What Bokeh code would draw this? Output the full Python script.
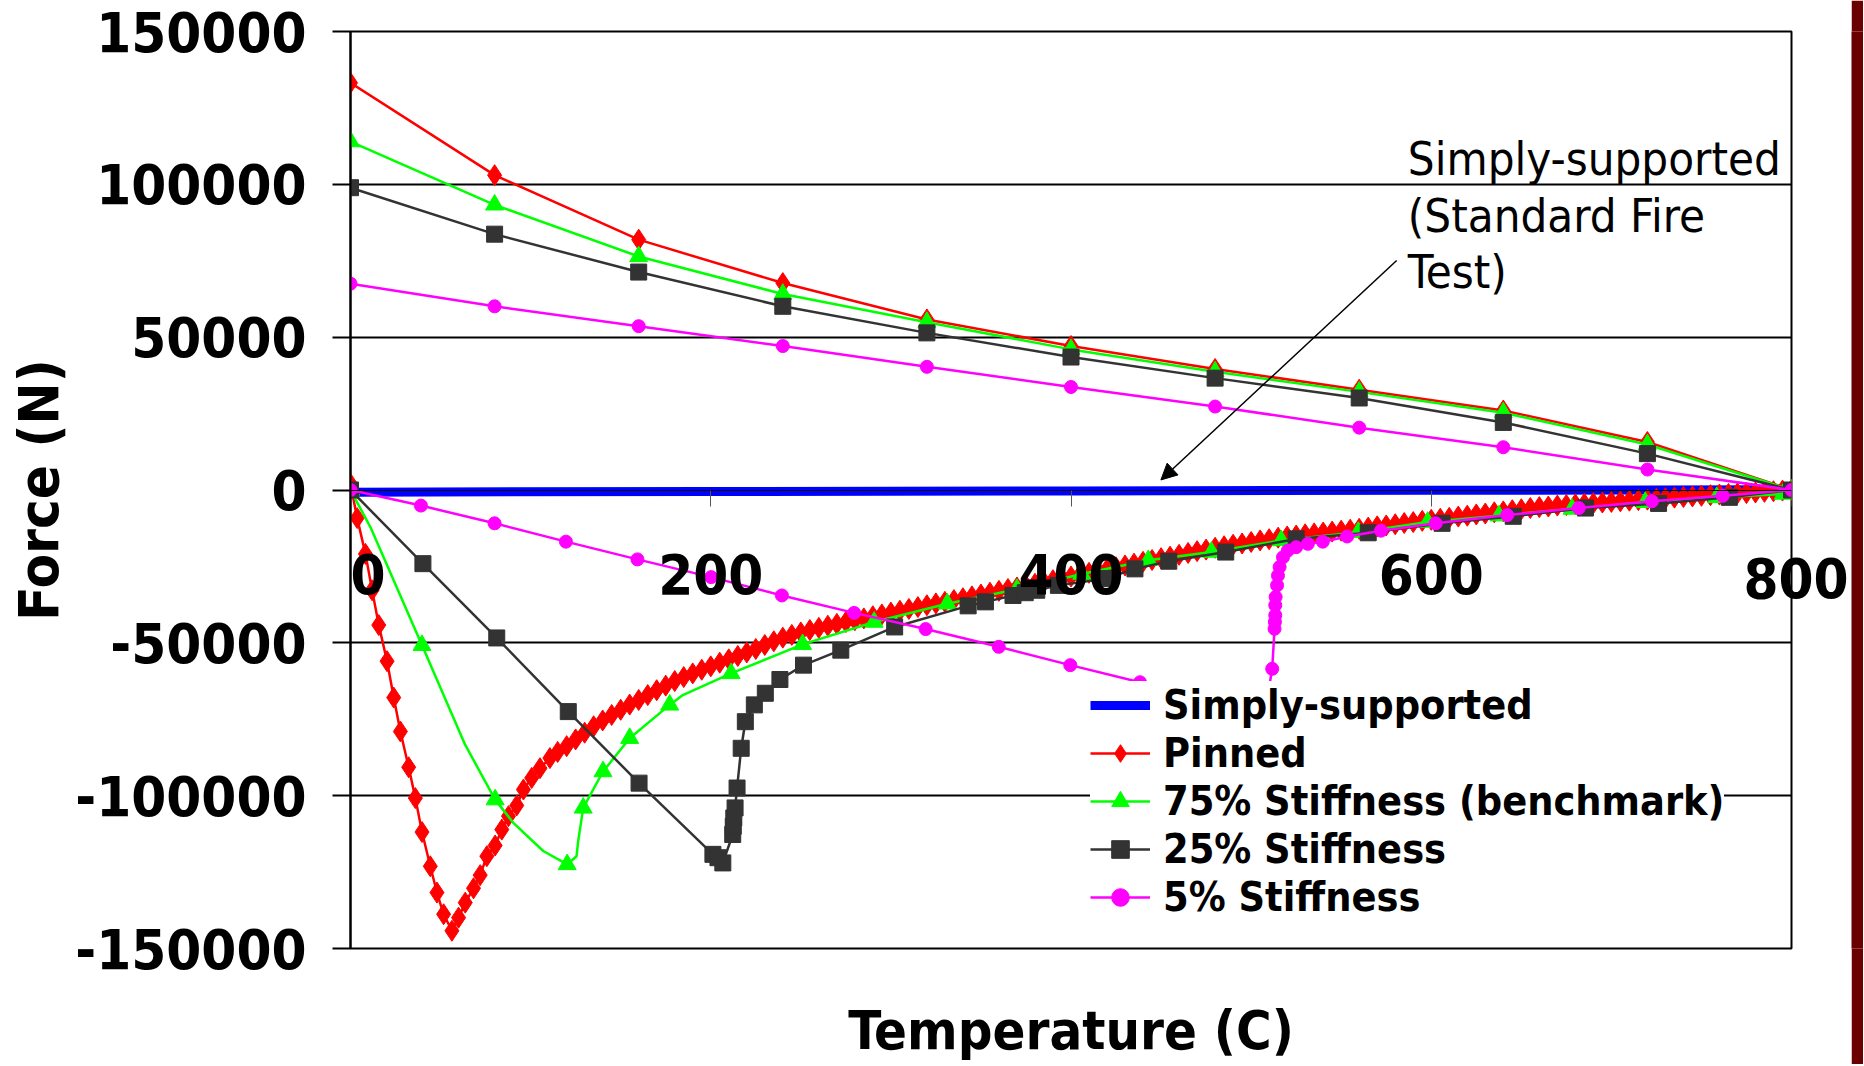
from bokeh.plotting import figure
from bokeh.models import (ColumnDataSource, CDSView, BooleanFilter, Legend, LegendItem,
                          FixedTicker, Label, Arrow, NormalHead, Range1d, LinearAxis)
from bokeh.layouts import row
from bokeh.embed import file_html
from bokeh.resources import INLINE

FONT = "DejaVu Sans Condensed"

# ---------------- data ----------------
x_ticks = [0, 200, 400, 600, 800]
x_tick_labels = ["0", "200", "400", "600", "800"]
y_ticks = [-150000, -100000, -50000, 0, 50000, 100000, 150000]
y_tick_labels = ["-150000", "-100000", "-50000", "0", "50000", "100000", "150000"]

# Simply-supported
ss_t = [0, 200, 400, 600, 800]
ss_f = [-700, -500, -300, -100, 100]

# cooling branch (upper curves), temperatures
cool_t = [0, 80, 160, 240, 320, 400, 480, 560, 640, 720, 800]
pinned_cool_f = [133200, 103000, 81900, 67700, 55800, 47100, 39600, 32800, 26000, 15700, 0]
green_cool_f = [114000, 93300, 76400, 64100, 54900, 46000, 38700, 32100, 25300, 14900, 0]
black_cool_f = [98900, 83700, 71300, 60100, 51400, 43500, 36600, 30100, 22100, 11900, 0]
mag_cool_f = [67500, 60100, 53600, 47100, 40300, 33700, 27300, 20400, 14000, 6700, 0]

# heating branch (lower curves)
pinned_heat_t = [0, 3.7, 8.3, 12, 15.7, 20.3, 24, 27.7, 32.3, 36, 39.7, 44.3, 48, 51.7, 56.3,
                 60, 63.7, 68.3, 72, 75.7, 80.3, 84, 87.7, 92.3, 96, 100.6, 105.2, 110.7,
                 115, 120, 125, 130, 135, 140, 145, 150, 155, 160,
                 165, 170, 175, 180, 185, 190, 195, 200, 205, 210,
                 215, 220, 225, 230, 235, 240, 245, 250, 255, 260,
                 265, 270, 275, 280, 285, 290, 295, 300, 305, 310,
                 315, 320, 325, 330, 335, 340, 345, 350, 355, 360,
                 365, 370, 375, 380, 385, 390, 395, 400, 405, 410,
                 415, 420, 425, 430, 435, 440, 445, 450, 455, 460,
                 465, 470, 475, 480, 485, 490, 495, 500, 505, 510,
                 515, 520, 525, 530, 535, 540, 545, 550, 555, 560,
                 565, 570, 575, 580, 585, 590, 595, 600, 605, 610,
                 615, 620, 625, 630, 635, 640, 645, 650, 655, 660,
                 665, 670, 675, 680, 685, 690, 695, 700, 705, 710,
                 715, 720, 725, 730, 735, 740, 745, 750, 755, 760,
                 765, 770, 775, 780, 785, 790, 795, 800]
pinned_heat_f = [2000, -9200, -20900, -32800, -44200, -56000, -67900, -79000, -90700, -100800,
                 -111900, -123100, -131700, -138800, -144200,
                 -139900, -135000, -130300, -126000, -119800, -116300, -111100, -106700, -103200,
                 -98000, -94200, -91000, -87700,
                 -85700, -83800, -81600, -79400, -77300, -75400, -73600, -71900, -70200, -68700,
                 -67100, -65500, -64000, -62500, -61200, -60000, -58800, -57700, -56500, -55400,
                 -54300, -53150, -52000, -50700, -49500, -48300, -47400, -46600, -45800, -45100,
                 -44400, -43800, -43200, -42600, -42000, -41300, -40700, -40100, -39500, -38900,
                 -38300, -37700, -37100, -36600, -36000, -35400, -34800, -34200, -33600, -33000,
                 -32400, -31900, -31300, -30700, -30100, -29500, -28900, -28300, -27700, -27100,
                 -26500, -25900, -25300, -24700, -24100, -23500, -22900, -22300, -21800, -21200,
                 -20600, -20000, -19500, -18900, -18400, -17900, -17500, -17000, -16500, -16100,
                 -15600, -15200, -14900, -14500, -14200, -13900, -13600, -13300, -13000, -12700,
                 -12300, -11900, -11600, -11200, -10800, -10500, -10100, -9750, -9400, -9100,
                 -8700, -8400, -8000, -7700, -7300, -7000, -6600, -6300, -5900, -5600,
                 -5400, -5100, -4900, -4700, -4500, -4300, -4100, -3900, -3700, -3500,
                 -3300, -3150, -2900, -2700, -2500, -2300, -2100, -1900, -1700, -1500,
                 -1300, -1100, -1000, -800, -600, -400, -200, 0]

green_heat_t = [0, 11.1, 39.7, 63.7, 80.3, 90.4, 107, 120.3, 125.5, 126.4, 129.2, 140.2, 155,
                177.2, 184.5, 211.3, 251, 290.7, 331.3, 370, 406, 442.9, 478, 516.7, 559.5,
                598, 637.6, 678.2, 718.8, 758.5, 795.4]
green_heat_f = [0, -12200, -50800, -83400, -101300, -108900, -118100, -122500, -119800, -114900,
                -104000, -92100, -81200, -70300, -67100, -60000, -50500, -43200, -37200, -32500,
                -27500, -23000, -20300, -16500, -13800, -10500, -8400, -6200, -4000, -2400, -1300]
green_heat_marked = [1, 0, 1, 0, 1, 0, 0, 1, 0, 0, 1, 1, 1, 1, 0, 1, 1, 1, 1, 1, 1, 1, 1, 1, 1,
                     1, 1, 1, 1, 1, 1]

black_heat_t = [0, 40.2, 81.2, 120.9, 160.2, 201.2, 204, 206.7, 212.2, 212.5, 212.8, 213.5,
                214.6, 216.9, 219.2, 224.2, 230.3, 238.4, 251.5, 272.2, 302.1, 342.9, 352.5,
                367.8, 374.6, 381, 393, 419, 435.5, 454.3, 485.9, 525, 565, 606, 645.5, 685.6,
                726.2, 765.5]
black_heat_f = [0, -24100, -48400, -72500, -95900, -119200, -120300, -122000, -112700, -110000,
                -107300, -104000, -97500, -84500, -75800, -70300, -66500, -62000, -57300, -52400,
                -44800, -37900, -36600, -34500, -33600, -32800, -31200, -29000, -25800, -23300,
                -20300, -16000, -14000, -10900, -8600, -5900, -4400, -2400]

mag_heat_t = [0, 39.1, 80, 119.6, 159.3, 200.2, 239.5, 279.6, 319.3, 359.9, 399.6, 438.3, 480,
              508, 511.7, 513, 513.2, 513.4, 513.4, 513.6, 514.4, 514.9, 515.8, 517.7, 520.4,
              525, 531.5, 539.8, 553.3, 572.1, 602.5, 642.2, 681.9, 722.5, 761.8]
mag_heat_f = [0, -5100, -10900, -16900, -22700, -28500, -34500, -40200, -45500, -51300, -57300,
              -62900, -68500, -71500, -58500, -45400, -43200, -41000, -37700, -35000, -31200,
              -28000, -25200, -22000, -19800, -18700, -17600, -16900, -15200, -13300, -10900,
              -8200, -5900, -3700, -1900]

x_title = "Temperature (C)"
y_title = "Force (N)"
annot_text = "Simply-supported\n(Standard Fire\nTest)"
annot_pos = (587, 117400)
arrow_start = (580.8, 75070)
arrow_end = (449.9, 3290)
x_label_level = -28700   # force level at which the last x tick label sits (right axis)

# ---------------- figure ----------------
p = figure(width=1851, height=1064, output_backend="svg", toolbar_location=None,
           x_range=Range1d(0, 800), y_range=Range1d(-150000, 150000),
           min_border_left=350, min_border_right=56, min_border_top=31, min_border_bottom=113,
           background_fill_color="white", border_fill_color="white",
           outline_line_color="black", outline_line_width=2)

# x axis crossing at y = 0 (ticks only; tick labels drawn as text)
xa = p.xaxis[0]
xa.fixed_location = 0
xa.ticker = FixedTicker(ticks=x_ticks)
xa.major_label_overrides = {t: "" for t in x_ticks}
xa.major_tick_out = 16
xa.major_tick_in = 0
xa.major_tick_line_color = "#555555"
xa.minor_tick_line_color = None
xa.axis_line_color = "black"

for i, (t, lab) in enumerate(zip(x_ticks[:-1], x_tick_labels[:-1])):
    align = "left" if i == 0 else "center"
    p.add_layout(Label(x=t, y=0, y_offset=-64, text=lab, text_align=align,
                       text_baseline="top", text_font=FONT, text_font_style="bold",
                       text_font_size="56px", text_color="black"))

# last x tick label straddles the right frame edge: drawn by an axis on the right
ra = LinearAxis(ticker=FixedTicker(ticks=[x_label_level]),
                major_label_overrides={x_label_level: x_tick_labels[-1]},
                axis_line_color=None, major_tick_line_color=None, minor_tick_line_color=None,
                major_tick_out=0, major_tick_in=0, major_label_standoff=-48,
                major_label_text_font=FONT, major_label_text_font_style="bold",
                major_label_text_font_size="56px", major_label_text_color="black")
p.add_layout(ra, "right")

# x axis title on an empty axis below the frame
xt = LinearAxis(ticker=FixedTicker(ticks=[]), axis_label=x_title,
                axis_line_color=None, major_tick_line_color=None, minor_tick_line_color=None,
                major_tick_out=0, major_tick_in=0, major_label_standoff=0,
                axis_label_standoff=50, axis_label_text_font=FONT,
                axis_label_text_font_style="bold", axis_label_text_font_size="54px",
                axis_label_text_color="black")
p.add_layout(xt, "below")

ya = p.yaxis[0]
ya.ticker = FixedTicker(ticks=y_ticks)
ya.major_label_overrides = dict(zip(y_ticks, y_tick_labels))
ya.major_tick_out = 18
ya.major_tick_in = 0
ya.major_tick_line_color = "black"
ya.major_tick_line_width = 2
ya.minor_tick_line_color = None
ya.axis_line_color = "black"
ya.axis_line_width = 2
ya.major_label_standoff = 26
ya.major_label_text_font = FONT
ya.major_label_text_font_style = "bold"
ya.major_label_text_font_size = "56px"
ya.major_label_text_color = "black"
ya.axis_label = y_title
ya.axis_label_text_font = FONT
ya.axis_label_text_font_style = "bold"
ya.axis_label_text_font_size = "56px"
ya.axis_label_text_color = "black"
ya.axis_label_standoff = 1

p.xgrid.visible = False
p.ygrid.ticker = FixedTicker(ticks=y_ticks)
p.ygrid.grid_line_color = "black"
p.ygrid.grid_line_width = 2

# ---------------- series ----------------
def make_series(heat_t, heat_f, cool_f, marked=None):
    t = list(heat_t) + cool_t[::-1]
    f = list(heat_f) + cool_f[::-1]
    if marked is None:
        m = [True] * len(t)
    else:
        m = [bool(v) for v in marked] + [True] * len(cool_t)
    return ColumnDataSource(dict(t=t, f=f)), m

r_ss = p.line(ss_t, ss_f, line_color="#0000FF", line_width=9)

series = [
    ("Pinned", pinned_heat_t, pinned_heat_f, pinned_cool_f, None, "#FF0000", "diamond", 21),
    ("75% Stiffness (benchmark)", green_heat_t, green_heat_f, green_cool_f, green_heat_marked,
     "#00FF00", "triangle", 18),
    ("25% Stiffness", black_heat_t, black_heat_f, black_cool_f, None, "#333333", "square", 16),
    ("5% Stiffness", mag_heat_t, mag_heat_f, mag_cool_f, None, "#FF00FF", "circle", 13),
]

items = [LegendItem(label="Simply-supported", renderers=[r_ss])]
for name, ht, hf, cf, mk, col, marker, size in series:
    src, mask = make_series(ht, hf, cf, mk)
    rl = p.line("t", "f", source=src, line_color=col, line_width=2.5)
    rm = p.scatter("t", "f", source=src, view=CDSView(filter=BooleanFilter(mask)),
                   marker=marker, size=size, fill_color=col, line_color=col)
    items.append(LegendItem(label=name, renderers=[rl, rm]))

# annotation
p.add_layout(Label(x=annot_pos[0], y=annot_pos[1], text=annot_text, text_font=FONT,
                   text_font_size="47px", text_color="black", text_baseline="top",
                   text_line_height=1.03))
p.add_layout(Arrow(end=NormalHead(size=16, fill_color="black", line_color="black"),
                   x_start=arrow_start[0], y_start=arrow_start[1],
                   x_end=arrow_end[0], y_end=arrow_end[1],
                   line_color="black", line_width=1.5))

legend = Legend(items=items, location=(740, 27), padding=10, margin=0, spacing=0,
                label_text_font=FONT, label_text_font_style="bold",
                label_text_font_size="41px", label_text_color="black",
                label_height=44, glyph_height=44, glyph_width=60, label_standoff=13,
                background_fill_color="white", background_fill_alpha=1.0,
                border_line_color=None)
p.add_layout(legend, "center")

# dark red slide border on the right
strip = figure(width=12, height=1064, output_backend="svg", toolbar_location=None,
               x_axis_type=None, y_axis_type=None, min_border=0,
               background_fill_color="#6B0000", border_fill_color="#6B0000",
               outline_line_color=None)
strip.grid.visible = False

layout = row(p, strip)
open("out.html", "w").write(file_html(layout, INLINE))
